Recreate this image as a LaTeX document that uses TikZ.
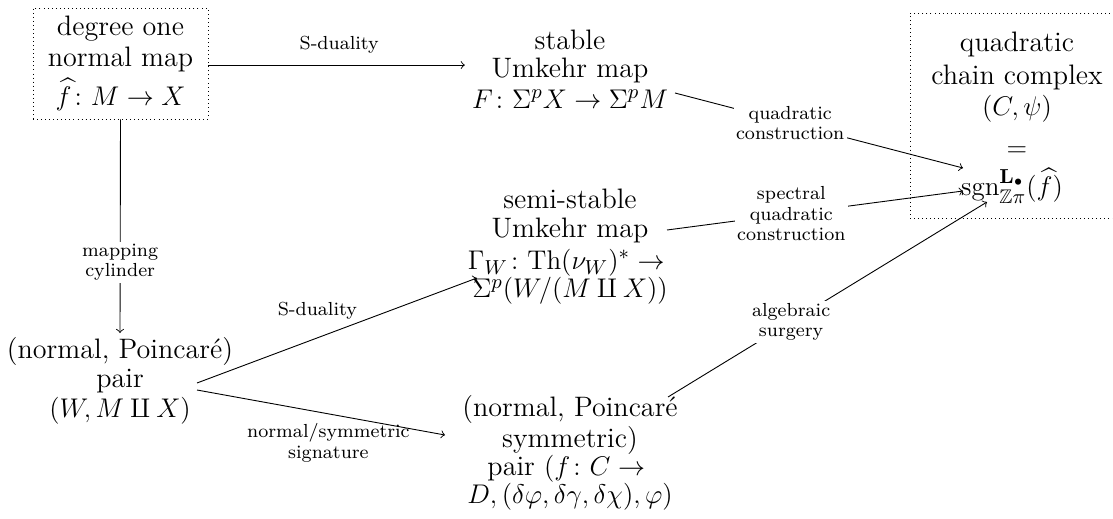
\documentclass[tikz,border=0pt]{standalone}
\usepackage{amsmath,amssymb}
\begin{document}
\begin{tikzpicture}[x=0.4444pt,y=-0.4444pt,>=to,
  main/.style={align=center, font=\fontsize{12.5}{12.5}\selectfont, inner sep=3pt},
  lbl/.style={align=center, font=\fontsize{8.4}{9}\selectfont, inner sep=1pt},
  desc/.style={lbl, fill=white},
  dotbox/.style={draw, dash pattern=on 0.4pt off 1.4pt},
  arr/.style={->, line width=0.4pt}]
\useasboundingbox (0,0) rectangle (1113,519);

\node[main, dotbox, minimum width=77.8pt, minimum height=49.3pt] (tl) at (120.5,63.5)
  {degree one\\[1pt] normal map\\[2pt] $\widehat{f}\colon M\to X$};
\node[main] (st) at (570,69) {stable\\ Umkehr map\\[1pt] $F\colon\Sigma^pX\to\Sigma^pM$};
\node[main] (ss) at (570,247) {semi-stable\\ Umkehr map\\[2pt] $\Gamma_W\colon\mathrm{Th}(\nu_W)^*\to{}$\\ $\Sigma^p(W/(M\amalg X))$};
\node[main] (bl) at (120,381) {(normal, Poincar\'e)\\ pair\\[1pt] $(W,M\amalg X)$};
\node[main] (bm) at (570,453) {(normal, Poincar\'e\\ symmetric)\\ pair $(f\colon C\to{}$\\ $D,(\delta\varphi,\delta\gamma,\delta\chi),\varphi)$};
\node[dotbox, minimum width=95.1pt, minimum height=91.1pt, inner sep=0pt] (rbox) at (1017,115.5) {};
\node[main] (qcc) at (1017,94) {quadratic\\[2pt] chain complex\\[1.5pt] $(C,\psi)$\\[5.5pt] $=$};
\node[main, inner sep=1pt] (sgn) at (1012,186) {$\operatorname{sgn}^{\mathbf{L}_\bullet}_{\mathbb{Z}\pi}(\widehat{f})$};

\draw[arr] ([yshift=-0.7pt]tl.east) -- ([yshift=-0.7pt]tl.east -| st.west)
  node[lbl, pos=0.51, yshift=8.9pt] (l1) {S-duality};
\draw[arr] (tl.south) -- ([shift={(0,-48)}]bl.center)
  node[desc, pos=0.67] (l2) {mapping\\ cylinder};
\draw[arr] ([shift={(105,24)}]st.center) -- ([shift={(-49,-18)}]sgn.center)
  node[desc, pos=0.40] (l3) {quadratic\\ construction};
\draw[arr] ([shift={(97,-17)}]ss.center) -- ([shift={(-49,5)}]sgn.center)
  node[desc, pos=0.42] (l4) {spectral\\ quadratic\\ construction};
\draw[arr] ([shift={(98,-56)}]bm.center) -- ([shift={(-25,16)}]sgn.center)
  node[desc, pos=0.386] (l5) {algebraic\\ surgery};
\draw[arr] ([shift={(77,2)}]bl.center) -- ([shift={(-93,31)}]ss.center)
  node[lbl, pos=0.43, yshift=12pt] (l6) {S-duality};
\draw[arr] ([shift={(77,9)}]bl.center) -- ([shift={(-125,-18)}]bm.center)
  node[lbl, pos=0.53, yshift=-12.9pt] (l7) {normal/symmetric\\ signature};
\end{tikzpicture}
\end{document}
